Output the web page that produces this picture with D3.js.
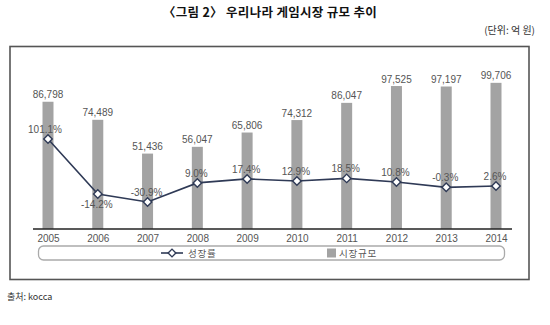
<!DOCTYPE html>
<html><head><meta charset="utf-8">
<script src="https://cdn.jsdelivr.net/npm/d3@7"></script>
<style>body{margin:0;background:#fff}svg{display:block}</style>
</head><body>
<svg id="c" width="550" height="325"></svg>
<script>
const years = ["2005","2006","2007","2008","2009","2010","2011","2012","2013","2014"];
const marketSize = [86798, 74489, 51436, 56047, 65806, 74312, 86047, 97525, 97197, 99706];
const growthRate = [101.1, -14.2, -30.9, 9.0, 17.4, 12.9, 18.5, 10.8, -0.3, 2.6];
const sizeLabels = ["86,798","74,489","51,436","56,047","65,806","74,312","86,047","97,525","97,197","99,706"];
const rateLabels = ["101.1%","-14.2%","-30.9%","9.0%","17.4%","12.9%","18.5%","10.8%","-0.3%","2.6%"];
const legendNames = ["성장률","시장규모"];

const svg = d3.select("#c");
const kr = "'Noto Sans CJK KR','Noto Sans',sans-serif";
const num = "'Liberation Sans',Arial,sans-serif";

// title
svg.append("text").attr("x",270).attr("y",17).attr("text-anchor","middle")
  .attr("font-family",kr).attr("font-weight","bold").attr("font-size",12.5).attr("fill","#111")
  .attr("letter-spacing",0.3)
  .text("〈그림 2〉 우리나라 게임시장 규모 추이");
svg.append("text").attr("x",535).attr("y",34).attr("text-anchor","end")
  .attr("font-family",kr).attr("font-size",10).attr("fill","#333").text("(단위: 억 원)");

// outer box
svg.append("rect").attr("x",10).attr("y",46.5).attr("width",519).attr("height",233)
  .attr("fill","#fff").attr("stroke","#555").attr("stroke-width",1.6);

const x = d3.scalePoint().domain(years).range([48, 496]);
const yBar = d3.scaleLinear().domain([0, 100000]).range([229, 82.4]);
const yLine = d3.scaleLinear().domain([0, 100]).range([187.2, 139.5]);
const bw = 11;

// bars
svg.append("g").selectAll("rect").data(marketSize).join("rect")
  .attr("x",(d,i)=>x(years[i])-bw/2).attr("y",d=>yBar(d))
  .attr("width",bw).attr("height",d=>yBar(0)-yBar(d)).attr("fill","#a3a3a3");

// bar labels
svg.append("g").selectAll("text").data(marketSize).join("text")
  .attr("x",(d,i)=>x(years[i])).attr("y",d=>yBar(d)-3.5).attr("text-anchor","middle")
  .attr("font-family",num).attr("font-size",10).attr("fill","#555")
  .text((d,i)=>sizeLabels[i]);

// x axis
const xAxis = d3.axisBottom(x).tickSize(0).tickPadding(6);
const ax = svg.append("g").attr("transform","translate(0,229)").call(xAxis);
ax.select(".domain").remove();
ax.append("line").attr("x1",33).attr("x2",512).attr("y1",0).attr("y2",0)
  .attr("stroke","#222").attr("stroke-width",1.3);
ax.selectAll(".tick text").attr("font-family",num).attr("font-size",10).attr("fill","#555");

// line
const line = d3.line().x((d,i)=>x(years[i])).y(d=>yLine(d));
svg.append("path").datum(growthRate).attr("d",line).attr("fill","none")
  .attr("stroke","#2f3a56").attr("stroke-width",1.6);
svg.append("g").selectAll("path").data(growthRate).join("path")
  .attr("transform",(d,i)=>`translate(${x(years[i])},${yLine(d)}) rotate(45)`)
  .attr("d",d3.symbol().type(d3.symbolSquare).size(36))
  .attr("fill","#fff").attr("stroke","#2f3a56").attr("stroke-width",1.4);

// rate labels
svg.append("g").selectAll("text").data(growthRate).join("text")
  .attr("x",(d,i)=>x(years[i]) + (i===0?-3:-1))
  .attr("y",(d,i)=>i===1 ? yLine(d)+14.5 : yLine(d)-6)
  .attr("text-anchor","middle")
  .attr("font-family",num).attr("font-size",10).attr("fill","#555")
  .text((d,i)=>rateLabels[i]);

// legend
const lg = svg.append("g");
lg.append("rect").attr("x",38.5).attr("y",246).attr("width",466).attr("height",14).attr("rx",5)
  .attr("fill","#fff").attr("stroke","#aaa").attr("stroke-width",1.3);
lg.append("line").attr("x1",161).attr("x2",183).attr("y1",253).attr("y2",253)
  .attr("stroke","#2f3a56").attr("stroke-width",1.6);
lg.append("path").attr("transform","translate(172,253) rotate(45)")
  .attr("d",d3.symbol().type(d3.symbolSquare).size(30))
  .attr("fill","#fff").attr("stroke","#2f3a56").attr("stroke-width",1.4);
lg.append("text").attr("x",188).attr("y",257).attr("font-family",kr).attr("font-size",9.5)
  .attr("fill","#555").attr("letter-spacing",0.8).text(legendNames[0]);
lg.append("rect").attr("x",327).attr("y",248.5).attr("width",9).attr("height",9).attr("fill","#a3a3a3");
lg.append("text").attr("x",339).attr("y",257).attr("font-family",kr).attr("font-size",9.5)
  .attr("fill","#555").attr("letter-spacing",0.8).text(legendNames[1]);

// source
svg.append("text").attr("x",7).attr("y",300).attr("font-family",kr).attr("font-size",9)
  .attr("fill","#333").text("출처: kocca");
</script>
</body></html>
